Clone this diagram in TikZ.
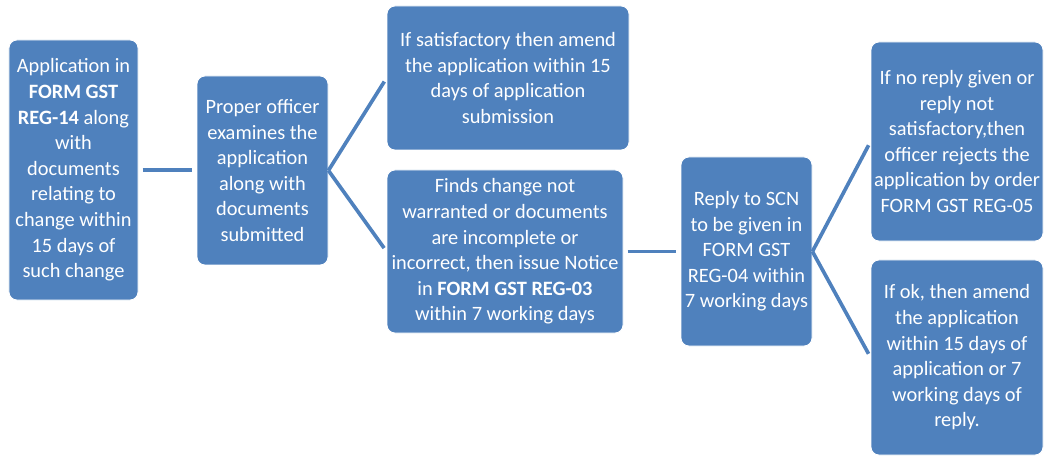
\documentclass[tikz,border=0pt]{standalone}
\usepackage{fontspec}
\setmainfont{Carlito}
\definecolor{boxblue}{HTML}{4F81BD}

\begin{document}
\begin{tikzpicture}[
	stepbox/.style={fill=boxblue, draw=white, line width=0.6pt, rounded corners=0.2cm,
		text=white, align=center, inner sep=2pt,
		font=\fontsize{14.5}{18.2}\selectfont},
	link/.style={draw=boxblue, line width=2.6pt}
]
\useasboundingbox (0,0) rectangle (26.15,11.425);

% boxes
\node[stepbox, minimum width=3.225cm, minimum height=6.5cm] (app) at (1.8375,7.175)
	{Application in\\\textbf{FORM GST}\\\textbf{REG-14} along\\with\\documents\\relating to\\change within\\15 days of\\such change};
\node[stepbox, minimum width=3.275cm, minimum height=4.725cm] (exam) at (6.5625,7.1625)
	{Proper officer\\examines the\\application\\along with\\documents\\submitted};
\node[stepbox, minimum width=6.05cm, minimum height=3.6cm] (amend) at (12.7,9.475)
	{If satisfactory then amend\\the application within 15\\days of application\\submission};
\node[stepbox, minimum width=5.9cm, minimum height=4.075cm] (notice) at (12.625,5.1375)
	{Finds change not\\warranted or documents\\are incomplete or\\incorrect, then issue Notice\\in \textbf{FORM GST REG-03}\\within 7 working days};
\node[stepbox, minimum width=3.275cm, minimum height=4.725cm] (reply) at (18.6625,5.1375)
	{Reply to SCN\\to be given in\\FORM GST\\REG-04 within\\7 working days};
\node[stepbox, minimum width=4.3cm, minimum height=4.975cm] (reject) at (23.925,7.8875)
	{If no reply given or\\reply not\\satisfactory,then\\officer rejects the\\application by order\\FORM GST REG-05};
\node[stepbox, minimum width=4.3cm, minimum height=4.875cm] (ok) at (23.925,2.4875)
	{If ok, then amend\\the application\\within 15 days of\\application or 7\\working days of\\reply.};

% connectors
\draw[link, shorten <=3pt, shorten >=3pt] (app.east) -- (app.east -| exam.west);
\draw[link, shorten >=3pt] (exam.east) -- (amend.west);
\draw[link, shorten >=3pt] (exam.east) -- (notice.west);
\draw[link, shorten <=3pt, shorten >=3pt] (notice.east) -- (reply.west);
\draw[link, shorten >=3pt] (reply.east) -- (reject.west);
\draw[link, shorten >=3pt] (reply.east) -- (ok.west);
\end{tikzpicture}
\end{document}
